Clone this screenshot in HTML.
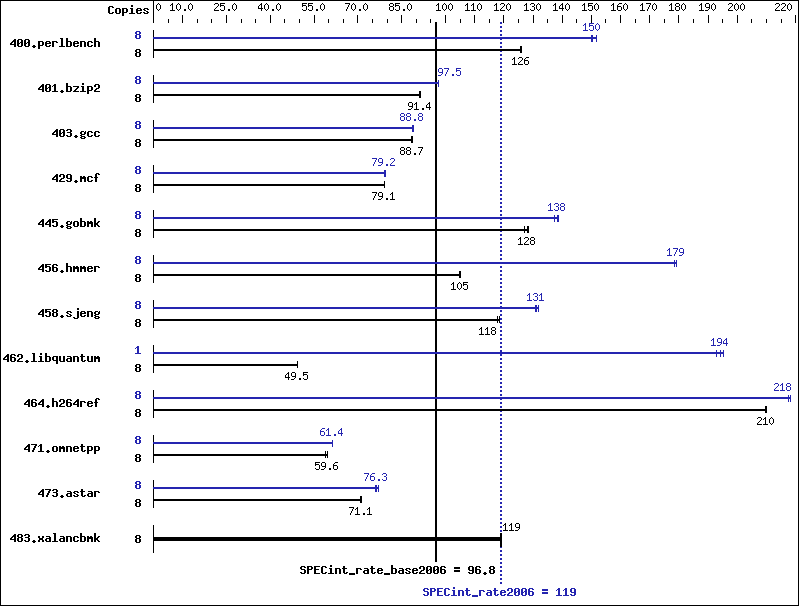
<!DOCTYPE html>
<html><head><meta charset="utf-8"><title>SPECint_rate2006</title>
<style>
html,body{margin:0;padding:0;background:#fff;overflow:hidden;}
svg{display:block;}
.t{font-family:"Liberation Mono",monospace;font-size:12px;fill:#000;fill-opacity:0;}
</style></head><body>
<svg width="799" height="606" viewBox="0 0 799 606" shape-rendering="crispEdges">
<defs>
<path id="b2e" d="M2 7h2v1h-2zM1 8h4v1h-4zM2 9h2v1h-2z"/>
<path id="b30" d="M1 1h4v1h-4zM0 2h2v1h-2zM4 2h2v1h-2zM0 3h2v1h-2zM4 3h2v1h-2zM0 4h2v1h-2zM3 4h3v1h-3zM0 5h3v1h-3zM4 5h2v1h-2zM0 6h2v1h-2zM4 6h2v1h-2zM0 7h2v1h-2zM4 7h2v1h-2zM1 8h4v1h-4z"/>
<path id="b31" d="M2 1h2v1h-2zM1 2h3v1h-3zM0 3h1v1h-1zM2 3h2v1h-2zM2 4h2v1h-2zM2 5h2v1h-2zM2 6h2v1h-2zM2 7h2v1h-2zM0 8h6v1h-6z"/>
<path id="b32" d="M1 1h4v1h-4zM0 2h2v1h-2zM4 2h2v1h-2zM0 3h2v1h-2zM4 3h2v1h-2zM4 4h2v1h-2zM2 5h3v1h-3zM1 6h2v1h-2zM0 7h2v1h-2zM0 8h6v1h-6z"/>
<path id="b33" d="M1 1h4v1h-4zM0 2h2v1h-2zM4 2h2v1h-2zM4 3h2v1h-2zM1 4h4v1h-4zM4 5h2v1h-2zM4 6h2v1h-2zM0 7h2v1h-2zM4 7h2v1h-2zM1 8h4v1h-4z"/>
<path id="b34" d="M4 1h2v1h-2zM3 2h3v1h-3zM2 3h4v1h-4zM1 4h2v1h-2zM4 4h2v1h-2zM0 5h2v1h-2zM4 5h2v1h-2zM0 6h6v1h-6zM4 7h2v1h-2zM4 8h2v1h-2z"/>
<path id="b35" d="M0 1h6v1h-6zM0 2h2v1h-2zM0 3h5v1h-5zM0 4h2v1h-2zM4 4h2v1h-2zM4 5h2v1h-2zM4 6h2v1h-2zM0 7h2v1h-2zM4 7h2v1h-2zM1 8h4v1h-4z"/>
<path id="b36" d="M1 1h4v1h-4zM0 2h2v1h-2zM4 2h2v1h-2zM0 3h2v1h-2zM0 4h5v1h-5zM0 5h2v1h-2zM4 5h2v1h-2zM0 6h2v1h-2zM4 6h2v1h-2zM0 7h2v1h-2zM4 7h2v1h-2zM1 8h4v1h-4z"/>
<path id="b37" d="M0 1h6v1h-6zM4 2h2v1h-2zM3 3h2v1h-2zM3 4h2v1h-2zM2 5h2v1h-2zM2 6h2v1h-2zM1 7h2v1h-2zM1 8h2v1h-2z"/>
<path id="b38" d="M1 1h4v1h-4zM0 2h2v1h-2zM4 2h2v1h-2zM0 3h2v1h-2zM4 3h2v1h-2zM1 4h4v1h-4zM0 5h2v1h-2zM4 5h2v1h-2zM0 6h2v1h-2zM4 6h2v1h-2zM0 7h2v1h-2zM4 7h2v1h-2zM1 8h4v1h-4z"/>
<path id="b39" d="M1 1h4v1h-4zM0 2h2v1h-2zM4 2h2v1h-2zM0 3h2v1h-2zM4 3h2v1h-2zM0 4h2v1h-2zM4 4h2v1h-2zM1 5h5v1h-5zM4 6h2v1h-2zM0 7h2v1h-2zM4 7h2v1h-2zM1 8h4v1h-4z"/>
<path id="b3d" d="M0 2h6v1h-6zM0 3h6v1h-6zM0 5h6v1h-6zM0 6h6v1h-6z"/>
<path id="b43" d="M1 1h4v1h-4zM0 2h2v1h-2zM4 2h2v1h-2zM0 3h2v1h-2zM0 4h2v1h-2zM0 5h2v1h-2zM0 6h2v1h-2zM0 7h2v1h-2zM4 7h2v1h-2zM1 8h4v1h-4z"/>
<path id="b45" d="M0 1h6v1h-6zM0 2h2v1h-2zM0 3h2v1h-2zM0 4h5v1h-5zM0 5h2v1h-2zM0 6h2v1h-2zM0 7h2v1h-2zM0 8h6v1h-6z"/>
<path id="b50" d="M0 1h5v1h-5zM0 2h2v1h-2zM4 2h2v1h-2zM0 3h2v1h-2zM4 3h2v1h-2zM0 4h5v1h-5zM0 5h2v1h-2zM0 6h2v1h-2zM0 7h2v1h-2zM0 8h2v1h-2z"/>
<path id="b53" d="M1 1h4v1h-4zM0 2h2v1h-2zM4 2h2v1h-2zM0 3h2v1h-2zM1 4h4v1h-4zM4 5h2v1h-2zM4 6h2v1h-2zM0 7h2v1h-2zM4 7h2v1h-2zM1 8h4v1h-4z"/>
<path id="b5f" d="M0 8h6v1h-6zM0 9h6v1h-6z"/>
<path id="b61" d="M1 3h4v1h-4zM4 4h2v1h-2zM1 5h5v1h-5zM0 6h2v1h-2zM4 6h2v1h-2zM0 7h2v1h-2zM4 7h2v1h-2zM1 8h5v1h-5z"/>
<path id="b62" d="M0 0h2v1h-2zM0 1h2v1h-2zM0 2h2v1h-2zM0 3h5v1h-5zM0 4h2v1h-2zM4 4h2v1h-2zM0 5h2v1h-2zM4 5h2v1h-2zM0 6h2v1h-2zM4 6h2v1h-2zM0 7h2v1h-2zM4 7h2v1h-2zM0 8h5v1h-5z"/>
<path id="b63" d="M1 3h4v1h-4zM0 4h2v1h-2zM4 4h2v1h-2zM0 5h2v1h-2zM0 6h2v1h-2zM0 7h2v1h-2zM4 7h2v1h-2zM1 8h4v1h-4z"/>
<path id="b65" d="M1 3h4v1h-4zM0 4h2v1h-2zM4 4h2v1h-2zM0 5h6v1h-6zM0 6h2v1h-2zM0 7h2v1h-2zM4 7h2v1h-2zM1 8h4v1h-4z"/>
<path id="b66" d="M2 0h3v1h-3zM1 1h2v1h-2zM4 1h2v1h-2zM1 2h2v1h-2zM1 3h2v1h-2zM0 4h4v1h-4zM1 5h2v1h-2zM1 6h2v1h-2zM1 7h2v1h-2zM1 8h2v1h-2z"/>
<path id="b67" d="M1 3h3v1h-3zM5 3h1v1h-1zM0 4h2v1h-2zM4 4h2v1h-2zM0 5h2v1h-2zM4 5h2v1h-2zM1 6h4v1h-4zM0 7h2v1h-2zM1 8h4v1h-4zM0 9h2v1h-2zM4 9h2v1h-2zM1 10h4v1h-4z"/>
<path id="b68" d="M0 0h2v1h-2zM0 1h2v1h-2zM0 2h2v1h-2zM0 3h5v1h-5zM0 4h2v1h-2zM4 4h2v1h-2zM0 5h2v1h-2zM4 5h2v1h-2zM0 6h2v1h-2zM4 6h2v1h-2zM0 7h2v1h-2zM4 7h2v1h-2zM0 8h2v1h-2zM4 8h2v1h-2z"/>
<path id="b69" d="M2 0h2v1h-2zM2 1h2v1h-2zM1 3h3v1h-3zM2 4h2v1h-2zM2 5h2v1h-2zM2 6h2v1h-2zM2 7h2v1h-2zM0 8h6v1h-6z"/>
<path id="b6a" d="M4 0h2v1h-2zM4 1h2v1h-2zM4 3h2v1h-2zM4 4h2v1h-2zM4 5h2v1h-2zM4 6h2v1h-2zM4 7h2v1h-2zM4 8h2v1h-2zM0 9h2v1h-2zM4 9h2v1h-2zM1 10h4v1h-4z"/>
<path id="b6b" d="M0 0h2v1h-2zM0 1h2v1h-2zM0 2h2v1h-2zM0 3h2v1h-2zM4 3h2v1h-2zM0 4h2v1h-2zM3 4h2v1h-2zM0 5h4v1h-4zM0 6h4v1h-4zM0 7h2v1h-2zM3 7h2v1h-2zM0 8h2v1h-2zM4 8h2v1h-2z"/>
<path id="b6c" d="M1 0h3v1h-3zM2 1h2v1h-2zM2 2h2v1h-2zM2 3h2v1h-2zM2 4h2v1h-2zM2 5h2v1h-2zM2 6h2v1h-2zM2 7h2v1h-2zM0 8h6v1h-6z"/>
<path id="b6d" d="M0 3h2v1h-2zM3 3h2v1h-2zM0 4h6v1h-6zM0 5h6v1h-6zM0 6h2v1h-2zM4 6h2v1h-2zM0 7h2v1h-2zM4 7h2v1h-2zM0 8h2v1h-2zM4 8h2v1h-2z"/>
<path id="b6e" d="M0 3h5v1h-5zM0 4h2v1h-2zM4 4h2v1h-2zM0 5h2v1h-2zM4 5h2v1h-2zM0 6h2v1h-2zM4 6h2v1h-2zM0 7h2v1h-2zM4 7h2v1h-2zM0 8h2v1h-2zM4 8h2v1h-2z"/>
<path id="b6f" d="M1 3h4v1h-4zM0 4h2v1h-2zM4 4h2v1h-2zM0 5h2v1h-2zM4 5h2v1h-2zM0 6h2v1h-2zM4 6h2v1h-2zM0 7h2v1h-2zM4 7h2v1h-2zM1 8h4v1h-4z"/>
<path id="b70" d="M0 3h5v1h-5zM0 4h2v1h-2zM4 4h2v1h-2zM0 5h2v1h-2zM4 5h2v1h-2zM0 6h2v1h-2zM4 6h2v1h-2zM0 7h5v1h-5zM0 8h2v1h-2zM0 9h2v1h-2zM0 10h2v1h-2z"/>
<path id="b71" d="M1 3h5v1h-5zM0 4h2v1h-2zM4 4h2v1h-2zM0 5h2v1h-2zM4 5h2v1h-2zM0 6h2v1h-2zM4 6h2v1h-2zM1 7h5v1h-5zM4 8h2v1h-2zM4 9h2v1h-2zM4 10h2v1h-2z"/>
<path id="b72" d="M0 3h5v1h-5zM0 4h2v1h-2zM4 4h2v1h-2zM0 5h2v1h-2zM0 6h2v1h-2zM0 7h2v1h-2zM0 8h2v1h-2z"/>
<path id="b73" d="M1 3h4v1h-4zM0 4h2v1h-2zM4 4h2v1h-2zM1 5h2v1h-2zM3 6h2v1h-2zM0 7h2v1h-2zM4 7h2v1h-2zM1 8h4v1h-4z"/>
<path id="b74" d="M1 1h2v1h-2zM1 2h2v1h-2zM0 3h5v1h-5zM1 4h2v1h-2zM1 5h2v1h-2zM1 6h2v1h-2zM1 7h2v1h-2zM4 7h2v1h-2zM2 8h3v1h-3z"/>
<path id="b75" d="M0 3h2v1h-2zM4 3h2v1h-2zM0 4h2v1h-2zM4 4h2v1h-2zM0 5h2v1h-2zM4 5h2v1h-2zM0 6h2v1h-2zM4 6h2v1h-2zM0 7h2v1h-2zM4 7h2v1h-2zM1 8h5v1h-5z"/>
<path id="b78" d="M0 3h2v1h-2zM4 3h2v1h-2zM0 4h2v1h-2zM4 4h2v1h-2zM1 5h4v1h-4zM1 6h4v1h-4zM0 7h2v1h-2zM4 7h2v1h-2zM0 8h2v1h-2zM4 8h2v1h-2z"/>
<path id="b7a" d="M0 3h6v1h-6zM4 4h2v1h-2zM3 5h2v1h-2zM2 6h2v1h-2zM1 7h2v1h-2zM0 8h6v1h-6z"/>
<path id="s2e" d="M2 6h2v1h-2zM2 7h2v1h-2z"/>
<path id="s30" d="M2 0h1v1h-1zM1 1h1v1h-1zM3 1h1v1h-1zM0 2h1v1h-1zM4 2h1v1h-1zM0 3h1v1h-1zM4 3h1v1h-1zM0 4h1v1h-1zM4 4h1v1h-1zM0 5h1v1h-1zM4 5h1v1h-1zM1 6h1v1h-1zM3 6h1v1h-1zM2 7h1v1h-1z"/>
<path id="s31" d="M2 0h1v1h-1zM1 1h2v1h-2zM0 2h1v1h-1zM2 2h1v1h-1zM2 3h1v1h-1zM2 4h1v1h-1zM2 5h1v1h-1zM2 6h1v1h-1zM0 7h5v1h-5z"/>
<path id="s32" d="M1 0h3v1h-3zM0 1h1v1h-1zM4 1h1v1h-1zM4 2h1v1h-1zM3 3h1v1h-1zM2 4h1v1h-1zM1 5h1v1h-1zM0 6h1v1h-1zM0 7h5v1h-5z"/>
<path id="s33" d="M1 0h3v1h-3zM0 1h1v1h-1zM4 1h1v1h-1zM4 2h1v1h-1zM2 3h2v1h-2zM4 4h1v1h-1zM4 5h1v1h-1zM0 6h1v1h-1zM4 6h1v1h-1zM1 7h3v1h-3z"/>
<path id="s34" d="M3 0h1v1h-1zM2 1h2v1h-2zM1 2h1v1h-1zM3 2h1v1h-1zM0 3h1v1h-1zM3 3h1v1h-1zM0 4h1v1h-1zM3 4h1v1h-1zM0 5h5v1h-5zM3 6h1v1h-1zM3 7h1v1h-1z"/>
<path id="s35" d="M0 0h5v1h-5zM0 1h1v1h-1zM0 2h4v1h-4zM0 3h1v1h-1zM4 3h1v1h-1zM4 4h1v1h-1zM4 5h1v1h-1zM0 6h1v1h-1zM4 6h1v1h-1zM1 7h3v1h-3z"/>
<path id="s36" d="M2 0h3v1h-3zM1 1h1v1h-1zM0 2h1v1h-1zM0 3h4v1h-4zM0 4h1v1h-1zM4 4h1v1h-1zM0 5h1v1h-1zM4 5h1v1h-1zM0 6h1v1h-1zM4 6h1v1h-1zM1 7h3v1h-3z"/>
<path id="s37" d="M0 0h5v1h-5zM4 1h1v1h-1zM3 2h1v1h-1zM3 3h1v1h-1zM2 4h1v1h-1zM2 5h1v1h-1zM1 6h1v1h-1zM1 7h1v1h-1z"/>
<path id="s38" d="M1 0h3v1h-3zM0 1h1v1h-1zM4 1h1v1h-1zM0 2h1v1h-1zM4 2h1v1h-1zM1 3h3v1h-3zM0 4h1v1h-1zM4 4h1v1h-1zM0 5h1v1h-1zM4 5h1v1h-1zM0 6h1v1h-1zM4 6h1v1h-1zM1 7h3v1h-3z"/>
<path id="s39" d="M1 0h3v1h-3zM0 1h1v1h-1zM4 1h1v1h-1zM0 2h1v1h-1zM4 2h1v1h-1zM0 3h1v1h-1zM4 3h1v1h-1zM1 4h4v1h-4zM4 5h1v1h-1zM3 6h1v1h-1zM0 7h3v1h-3z"/>
</defs>
<rect x="0" y="0" width="799" height="606" fill="#fff"/>
<g fill="#000">
<rect x="0" y="0" width="799" height="1"/>
<rect x="0" y="605" width="799" height="1"/>
<rect x="0" y="1" width="1" height="604"/>
<rect x="798" y="1" width="1" height="604"/>
<rect x="153" y="1" width="1" height="22"/>
<rect x="168" y="19" width="1" height="4"/>
<rect x="182" y="15" width="1" height="8"/>
<rect x="197" y="19" width="1" height="4"/>
<rect x="211" y="19" width="1" height="4"/>
<rect x="226" y="15" width="1" height="8"/>
<rect x="241" y="19" width="1" height="4"/>
<rect x="255" y="19" width="1" height="4"/>
<rect x="270" y="15" width="1" height="8"/>
<rect x="284" y="19" width="1" height="4"/>
<rect x="299" y="19" width="1" height="4"/>
<rect x="314" y="15" width="1" height="8"/>
<rect x="328" y="19" width="1" height="4"/>
<rect x="343" y="19" width="1" height="4"/>
<rect x="357" y="15" width="1" height="8"/>
<rect x="372" y="19" width="1" height="4"/>
<rect x="387" y="19" width="1" height="4"/>
<rect x="401" y="15" width="1" height="8"/>
<rect x="416" y="19" width="1" height="4"/>
<rect x="430" y="19" width="1" height="4"/>
<rect x="445" y="15" width="1" height="8"/>
<rect x="460" y="19" width="1" height="4"/>
<rect x="474" y="15" width="1" height="8"/>
<rect x="489" y="19" width="1" height="4"/>
<rect x="503" y="15" width="1" height="8"/>
<rect x="518" y="19" width="1" height="4"/>
<rect x="533" y="15" width="1" height="8"/>
<rect x="547" y="19" width="1" height="4"/>
<rect x="562" y="15" width="1" height="8"/>
<rect x="576" y="19" width="1" height="4"/>
<rect x="591" y="15" width="1" height="8"/>
<rect x="605" y="19" width="1" height="4"/>
<rect x="620" y="15" width="1" height="8"/>
<rect x="635" y="19" width="1" height="4"/>
<rect x="649" y="15" width="1" height="8"/>
<rect x="664" y="19" width="1" height="4"/>
<rect x="678" y="15" width="1" height="8"/>
<rect x="693" y="19" width="1" height="4"/>
<rect x="708" y="15" width="1" height="8"/>
<rect x="722" y="19" width="1" height="4"/>
<rect x="737" y="15" width="1" height="8"/>
<rect x="751" y="19" width="1" height="4"/>
<rect x="766" y="19" width="1" height="4"/>
<rect x="781" y="19" width="1" height="4"/>
<rect x="795" y="15" width="1" height="8"/>
<rect x="435" y="22" width="2" height="540"/>
</g>
<g fill="#2525b0">
<rect x="500" y="22" width="2" height="2"/>
<rect x="500" y="26" width="2" height="2"/>
<rect x="500" y="30" width="2" height="2"/>
<rect x="500" y="34" width="2" height="2"/>
<rect x="500" y="38" width="2" height="2"/>
<rect x="500" y="42" width="2" height="2"/>
<rect x="500" y="46" width="2" height="2"/>
<rect x="500" y="50" width="2" height="2"/>
<rect x="500" y="54" width="2" height="2"/>
<rect x="500" y="58" width="2" height="2"/>
<rect x="500" y="62" width="2" height="2"/>
<rect x="500" y="66" width="2" height="2"/>
<rect x="500" y="70" width="2" height="2"/>
<rect x="500" y="74" width="2" height="2"/>
<rect x="500" y="78" width="2" height="2"/>
<rect x="500" y="82" width="2" height="2"/>
<rect x="500" y="86" width="2" height="2"/>
<rect x="500" y="90" width="2" height="2"/>
<rect x="500" y="94" width="2" height="2"/>
<rect x="500" y="98" width="2" height="2"/>
<rect x="500" y="102" width="2" height="2"/>
<rect x="500" y="106" width="2" height="2"/>
<rect x="500" y="110" width="2" height="2"/>
<rect x="500" y="114" width="2" height="2"/>
<rect x="500" y="118" width="2" height="2"/>
<rect x="500" y="122" width="2" height="2"/>
<rect x="500" y="126" width="2" height="2"/>
<rect x="500" y="130" width="2" height="2"/>
<rect x="500" y="134" width="2" height="2"/>
<rect x="500" y="138" width="2" height="2"/>
<rect x="500" y="142" width="2" height="2"/>
<rect x="500" y="146" width="2" height="2"/>
<rect x="500" y="150" width="2" height="2"/>
<rect x="500" y="154" width="2" height="2"/>
<rect x="500" y="158" width="2" height="2"/>
<rect x="500" y="162" width="2" height="2"/>
<rect x="500" y="166" width="2" height="2"/>
<rect x="500" y="170" width="2" height="2"/>
<rect x="500" y="174" width="2" height="2"/>
<rect x="500" y="178" width="2" height="2"/>
<rect x="500" y="182" width="2" height="2"/>
<rect x="500" y="186" width="2" height="2"/>
<rect x="500" y="190" width="2" height="2"/>
<rect x="500" y="194" width="2" height="2"/>
<rect x="500" y="198" width="2" height="2"/>
<rect x="500" y="202" width="2" height="2"/>
<rect x="500" y="206" width="2" height="2"/>
<rect x="500" y="210" width="2" height="2"/>
<rect x="500" y="214" width="2" height="2"/>
<rect x="500" y="218" width="2" height="2"/>
<rect x="500" y="222" width="2" height="2"/>
<rect x="500" y="226" width="2" height="2"/>
<rect x="500" y="230" width="2" height="2"/>
<rect x="500" y="234" width="2" height="2"/>
<rect x="500" y="238" width="2" height="2"/>
<rect x="500" y="242" width="2" height="2"/>
<rect x="500" y="246" width="2" height="2"/>
<rect x="500" y="250" width="2" height="2"/>
<rect x="500" y="254" width="2" height="2"/>
<rect x="500" y="258" width="2" height="2"/>
<rect x="500" y="262" width="2" height="2"/>
<rect x="500" y="266" width="2" height="2"/>
<rect x="500" y="270" width="2" height="2"/>
<rect x="500" y="274" width="2" height="2"/>
<rect x="500" y="278" width="2" height="2"/>
<rect x="500" y="282" width="2" height="2"/>
<rect x="500" y="286" width="2" height="2"/>
<rect x="500" y="290" width="2" height="2"/>
<rect x="500" y="294" width="2" height="2"/>
<rect x="500" y="298" width="2" height="2"/>
<rect x="500" y="302" width="2" height="2"/>
<rect x="500" y="306" width="2" height="2"/>
<rect x="500" y="310" width="2" height="2"/>
<rect x="500" y="314" width="2" height="2"/>
<rect x="500" y="318" width="2" height="2"/>
<rect x="500" y="322" width="2" height="2"/>
<rect x="500" y="326" width="2" height="2"/>
<rect x="500" y="330" width="2" height="2"/>
<rect x="500" y="334" width="2" height="2"/>
<rect x="500" y="338" width="2" height="2"/>
<rect x="500" y="342" width="2" height="2"/>
<rect x="500" y="346" width="2" height="2"/>
<rect x="500" y="350" width="2" height="2"/>
<rect x="500" y="354" width="2" height="2"/>
<rect x="500" y="358" width="2" height="2"/>
<rect x="500" y="362" width="2" height="2"/>
<rect x="500" y="366" width="2" height="2"/>
<rect x="500" y="370" width="2" height="2"/>
<rect x="500" y="374" width="2" height="2"/>
<rect x="500" y="378" width="2" height="2"/>
<rect x="500" y="382" width="2" height="2"/>
<rect x="500" y="386" width="2" height="2"/>
<rect x="500" y="390" width="2" height="2"/>
<rect x="500" y="394" width="2" height="2"/>
<rect x="500" y="398" width="2" height="2"/>
<rect x="500" y="402" width="2" height="2"/>
<rect x="500" y="406" width="2" height="2"/>
<rect x="500" y="410" width="2" height="2"/>
<rect x="500" y="414" width="2" height="2"/>
<rect x="500" y="418" width="2" height="2"/>
<rect x="500" y="422" width="2" height="2"/>
<rect x="500" y="426" width="2" height="2"/>
<rect x="500" y="430" width="2" height="2"/>
<rect x="500" y="434" width="2" height="2"/>
<rect x="500" y="438" width="2" height="2"/>
<rect x="500" y="442" width="2" height="2"/>
<rect x="500" y="446" width="2" height="2"/>
<rect x="500" y="450" width="2" height="2"/>
<rect x="500" y="454" width="2" height="2"/>
<rect x="500" y="458" width="2" height="2"/>
<rect x="500" y="462" width="2" height="2"/>
<rect x="500" y="466" width="2" height="2"/>
<rect x="500" y="470" width="2" height="2"/>
<rect x="500" y="474" width="2" height="2"/>
<rect x="500" y="478" width="2" height="2"/>
<rect x="500" y="482" width="2" height="2"/>
<rect x="500" y="486" width="2" height="2"/>
<rect x="500" y="490" width="2" height="2"/>
<rect x="500" y="494" width="2" height="2"/>
<rect x="500" y="498" width="2" height="2"/>
<rect x="500" y="502" width="2" height="2"/>
<rect x="500" y="506" width="2" height="2"/>
<rect x="500" y="510" width="2" height="2"/>
<rect x="500" y="514" width="2" height="2"/>
<rect x="500" y="518" width="2" height="2"/>
<rect x="500" y="522" width="2" height="2"/>
<rect x="500" y="526" width="2" height="2"/>
<rect x="500" y="530" width="2" height="2"/>
<rect x="500" y="534" width="2" height="2"/>
<rect x="500" y="538" width="2" height="2"/>
<rect x="500" y="542" width="2" height="2"/>
<rect x="500" y="546" width="2" height="2"/>
<rect x="500" y="550" width="2" height="2"/>
<rect x="500" y="554" width="2" height="2"/>
<rect x="500" y="558" width="2" height="2"/>
<rect x="500" y="562" width="2" height="2"/>
<rect x="500" y="566" width="2" height="2"/>
<rect x="500" y="570" width="2" height="2"/>
<rect x="500" y="574" width="2" height="2"/>
<rect x="500" y="578" width="2" height="2"/>
<rect x="500" y="582" width="2" height="2"/>
</g>
<g fill="#000">
<rect x="153" y="30" width="1" height="28"/>
</g>
<g fill="#2525b0">
<rect x="153" y="37" width="444" height="2"/>
<rect x="591" y="35" width="1" height="7"/>
<rect x="592" y="35" width="1" height="7"/>
<rect x="596" y="35" width="1" height="7"/>
</g>
<g fill="#000">
<rect x="153" y="49" width="369" height="2"/>
<rect x="520" y="46" width="1" height="7"/>
<rect x="521" y="46" width="1" height="7"/>
<rect x="153" y="75" width="1" height="28"/>
</g>
<g fill="#2525b0">
<rect x="153" y="82" width="286" height="2"/>
<rect x="438" y="80" width="1" height="7"/>
</g>
<g fill="#000">
<rect x="153" y="94" width="268" height="2"/>
<rect x="419" y="91" width="1" height="7"/>
<rect x="420" y="91" width="1" height="7"/>
<rect x="153" y="120" width="1" height="28"/>
</g>
<g fill="#2525b0">
<rect x="153" y="127" width="261" height="2"/>
<rect x="412" y="125" width="1" height="7"/>
<rect x="413" y="125" width="1" height="7"/>
</g>
<g fill="#000">
<rect x="153" y="139" width="260" height="2"/>
<rect x="411" y="136" width="1" height="7"/>
<rect x="412" y="136" width="1" height="7"/>
<rect x="153" y="165" width="1" height="28"/>
</g>
<g fill="#2525b0">
<rect x="153" y="172" width="233" height="2"/>
<rect x="384" y="170" width="1" height="7"/>
<rect x="385" y="170" width="1" height="7"/>
</g>
<g fill="#000">
<rect x="153" y="184" width="232" height="2"/>
<rect x="384" y="181" width="1" height="7"/>
<rect x="153" y="210" width="1" height="28"/>
</g>
<g fill="#2525b0">
<rect x="153" y="217" width="406" height="2"/>
<rect x="554" y="215" width="1" height="7"/>
<rect x="557" y="215" width="1" height="7"/>
<rect x="558" y="215" width="1" height="7"/>
</g>
<g fill="#000">
<rect x="153" y="229" width="376" height="2"/>
<rect x="524" y="226" width="1" height="7"/>
<rect x="527" y="226" width="1" height="7"/>
<rect x="528" y="226" width="1" height="7"/>
<rect x="153" y="255" width="1" height="28"/>
</g>
<g fill="#2525b0">
<rect x="153" y="262" width="524" height="2"/>
<rect x="674" y="260" width="1" height="7"/>
<rect x="676" y="260" width="1" height="7"/>
</g>
<g fill="#000">
<rect x="153" y="274" width="308" height="2"/>
<rect x="459" y="271" width="1" height="7"/>
<rect x="460" y="271" width="1" height="7"/>
<rect x="153" y="300" width="1" height="28"/>
</g>
<g fill="#2525b0">
<rect x="153" y="307" width="386" height="2"/>
<rect x="535" y="305" width="1" height="7"/>
<rect x="536" y="305" width="1" height="7"/>
<rect x="538" y="305" width="1" height="7"/>
</g>
<g fill="#000">
<rect x="153" y="319" width="347" height="2"/>
<rect x="497" y="316" width="1" height="7"/>
<rect x="499" y="316" width="1" height="7"/>
<rect x="153" y="345" width="1" height="28"/>
</g>
<g fill="#2525b0">
<rect x="153" y="352" width="571" height="2"/>
<rect x="716" y="350" width="1" height="7"/>
<rect x="720" y="350" width="1" height="7"/>
<rect x="723" y="350" width="1" height="7"/>
</g>
<g fill="#000">
<rect x="153" y="364" width="145" height="2"/>
<rect x="297" y="361" width="1" height="7"/>
<rect x="153" y="390" width="1" height="28"/>
</g>
<g fill="#2525b0">
<rect x="153" y="397" width="638" height="2"/>
<rect x="788" y="395" width="1" height="7"/>
<rect x="790" y="395" width="1" height="7"/>
</g>
<g fill="#000">
<rect x="153" y="409" width="614" height="2"/>
<rect x="765" y="406" width="1" height="7"/>
<rect x="766" y="406" width="1" height="7"/>
<rect x="153" y="435" width="1" height="28"/>
</g>
<g fill="#2525b0">
<rect x="153" y="442" width="180" height="2"/>
<rect x="332" y="440" width="1" height="7"/>
</g>
<g fill="#000">
<rect x="153" y="454" width="175" height="2"/>
<rect x="325" y="451" width="1" height="7"/>
<rect x="327" y="451" width="1" height="7"/>
<rect x="153" y="480" width="1" height="28"/>
</g>
<g fill="#2525b0">
<rect x="153" y="487" width="226" height="2"/>
<rect x="375" y="485" width="1" height="7"/>
<rect x="376" y="485" width="1" height="7"/>
<rect x="378" y="485" width="1" height="7"/>
</g>
<g fill="#000">
<rect x="153" y="499" width="209" height="2"/>
<rect x="360" y="496" width="1" height="7"/>
<rect x="361" y="496" width="1" height="7"/>
<rect x="153" y="525" width="1" height="28"/>
<rect x="153" y="537" width="349" height="4"/>
<rect x="500" y="533" width="2" height="14"/>
</g>
<g fill="#000" transform="translate(108 5)"><use href="#b43" x="0"/><use href="#b6f" x="7"/><use href="#b70" x="14"/><use href="#b69" x="21"/><use href="#b65" x="28"/><use href="#b73" x="35"/></g>
<g fill="#000" transform="translate(10 38)"><use href="#b34" x="0"/><use href="#b30" x="7"/><use href="#b30" x="14"/><use href="#b2e" x="21"/><use href="#b70" x="28"/><use href="#b65" x="35"/><use href="#b72" x="42"/><use href="#b6c" x="49"/><use href="#b62" x="56"/><use href="#b65" x="63"/><use href="#b6e" x="70"/><use href="#b63" x="77"/><use href="#b68" x="84"/></g>
<g fill="#2525b0" transform="translate(135 30)"><use href="#b38" x="0"/></g>
<g fill="#000" transform="translate(135 48)"><use href="#b38" x="0"/></g>
<g fill="#000" transform="translate(38 83)"><use href="#b34" x="0"/><use href="#b30" x="7"/><use href="#b31" x="14"/><use href="#b2e" x="21"/><use href="#b62" x="28"/><use href="#b7a" x="35"/><use href="#b69" x="42"/><use href="#b70" x="49"/><use href="#b32" x="56"/></g>
<g fill="#2525b0" transform="translate(135 75)"><use href="#b38" x="0"/></g>
<g fill="#000" transform="translate(135 93)"><use href="#b38" x="0"/></g>
<g fill="#000" transform="translate(52 128)"><use href="#b34" x="0"/><use href="#b30" x="7"/><use href="#b33" x="14"/><use href="#b2e" x="21"/><use href="#b67" x="28"/><use href="#b63" x="35"/><use href="#b63" x="42"/></g>
<g fill="#2525b0" transform="translate(135 120)"><use href="#b38" x="0"/></g>
<g fill="#000" transform="translate(135 138)"><use href="#b38" x="0"/></g>
<g fill="#000" transform="translate(52 173)"><use href="#b34" x="0"/><use href="#b32" x="7"/><use href="#b39" x="14"/><use href="#b2e" x="21"/><use href="#b6d" x="28"/><use href="#b63" x="35"/><use href="#b66" x="42"/></g>
<g fill="#2525b0" transform="translate(135 165)"><use href="#b38" x="0"/></g>
<g fill="#000" transform="translate(135 183)"><use href="#b38" x="0"/></g>
<g fill="#000" transform="translate(38 218)"><use href="#b34" x="0"/><use href="#b34" x="7"/><use href="#b35" x="14"/><use href="#b2e" x="21"/><use href="#b67" x="28"/><use href="#b6f" x="35"/><use href="#b62" x="42"/><use href="#b6d" x="49"/><use href="#b6b" x="56"/></g>
<g fill="#2525b0" transform="translate(135 210)"><use href="#b38" x="0"/></g>
<g fill="#000" transform="translate(135 228)"><use href="#b38" x="0"/></g>
<g fill="#000" transform="translate(38 263)"><use href="#b34" x="0"/><use href="#b35" x="7"/><use href="#b36" x="14"/><use href="#b2e" x="21"/><use href="#b68" x="28"/><use href="#b6d" x="35"/><use href="#b6d" x="42"/><use href="#b65" x="49"/><use href="#b72" x="56"/></g>
<g fill="#2525b0" transform="translate(135 255)"><use href="#b38" x="0"/></g>
<g fill="#000" transform="translate(135 273)"><use href="#b38" x="0"/></g>
<g fill="#000" transform="translate(38 308)"><use href="#b34" x="0"/><use href="#b35" x="7"/><use href="#b38" x="14"/><use href="#b2e" x="21"/><use href="#b73" x="28"/><use href="#b6a" x="35"/><use href="#b65" x="42"/><use href="#b6e" x="49"/><use href="#b67" x="56"/></g>
<g fill="#2525b0" transform="translate(135 300)"><use href="#b38" x="0"/></g>
<g fill="#000" transform="translate(135 318)"><use href="#b38" x="0"/></g>
<g fill="#000" transform="translate(3 353)"><use href="#b34" x="0"/><use href="#b36" x="7"/><use href="#b32" x="14"/><use href="#b2e" x="21"/><use href="#b6c" x="28"/><use href="#b69" x="35"/><use href="#b62" x="42"/><use href="#b71" x="49"/><use href="#b75" x="56"/><use href="#b61" x="63"/><use href="#b6e" x="70"/><use href="#b74" x="77"/><use href="#b75" x="84"/><use href="#b6d" x="91"/></g>
<g fill="#2525b0" transform="translate(135 345)"><use href="#b31" x="0"/></g>
<g fill="#000" transform="translate(135 363)"><use href="#b38" x="0"/></g>
<g fill="#000" transform="translate(24 398)"><use href="#b34" x="0"/><use href="#b36" x="7"/><use href="#b34" x="14"/><use href="#b2e" x="21"/><use href="#b68" x="28"/><use href="#b32" x="35"/><use href="#b36" x="42"/><use href="#b34" x="49"/><use href="#b72" x="56"/><use href="#b65" x="63"/><use href="#b66" x="70"/></g>
<g fill="#2525b0" transform="translate(135 390)"><use href="#b38" x="0"/></g>
<g fill="#000" transform="translate(135 408)"><use href="#b38" x="0"/></g>
<g fill="#000" transform="translate(24 443)"><use href="#b34" x="0"/><use href="#b37" x="7"/><use href="#b31" x="14"/><use href="#b2e" x="21"/><use href="#b6f" x="28"/><use href="#b6d" x="35"/><use href="#b6e" x="42"/><use href="#b65" x="49"/><use href="#b74" x="56"/><use href="#b70" x="63"/><use href="#b70" x="70"/></g>
<g fill="#2525b0" transform="translate(135 435)"><use href="#b38" x="0"/></g>
<g fill="#000" transform="translate(135 453)"><use href="#b38" x="0"/></g>
<g fill="#000" transform="translate(38 488)"><use href="#b34" x="0"/><use href="#b37" x="7"/><use href="#b33" x="14"/><use href="#b2e" x="21"/><use href="#b61" x="28"/><use href="#b73" x="35"/><use href="#b74" x="42"/><use href="#b61" x="49"/><use href="#b72" x="56"/></g>
<g fill="#2525b0" transform="translate(135 480)"><use href="#b38" x="0"/></g>
<g fill="#000" transform="translate(135 498)"><use href="#b38" x="0"/></g>
<g fill="#000" transform="translate(10 533)"><use href="#b34" x="0"/><use href="#b38" x="7"/><use href="#b33" x="14"/><use href="#b2e" x="21"/><use href="#b78" x="28"/><use href="#b61" x="35"/><use href="#b6c" x="42"/><use href="#b61" x="49"/><use href="#b6e" x="56"/><use href="#b63" x="63"/><use href="#b62" x="70"/><use href="#b6d" x="77"/><use href="#b6b" x="84"/></g>
<g fill="#000" transform="translate(135 534)"><use href="#b38" x="0"/></g>
<g fill="#000" transform="translate(300 565)"><use href="#b53" x="0"/><use href="#b50" x="7"/><use href="#b45" x="14"/><use href="#b43" x="21"/><use href="#b69" x="28"/><use href="#b6e" x="35"/><use href="#b74" x="42"/><use href="#b5f" x="49"/><use href="#b72" x="56"/><use href="#b61" x="63"/><use href="#b74" x="70"/><use href="#b65" x="77"/><use href="#b5f" x="84"/><use href="#b62" x="91"/><use href="#b61" x="98"/><use href="#b73" x="105"/><use href="#b65" x="112"/><use href="#b32" x="119"/><use href="#b30" x="126"/><use href="#b30" x="133"/><use href="#b36" x="140"/><use href="#b3d" x="154"/><use href="#b39" x="168"/><use href="#b36" x="175"/><use href="#b2e" x="182"/><use href="#b38" x="189"/></g>
<g fill="#2525b0" transform="translate(423 587)"><use href="#b53" x="0"/><use href="#b50" x="7"/><use href="#b45" x="14"/><use href="#b43" x="21"/><use href="#b69" x="28"/><use href="#b6e" x="35"/><use href="#b74" x="42"/><use href="#b5f" x="49"/><use href="#b72" x="56"/><use href="#b61" x="63"/><use href="#b74" x="70"/><use href="#b65" x="77"/><use href="#b32" x="84"/><use href="#b30" x="91"/><use href="#b30" x="98"/><use href="#b36" x="105"/><use href="#b3d" x="119"/><use href="#b31" x="133"/><use href="#b31" x="140"/><use href="#b39" x="147"/></g>
<g fill="#000" transform="translate(156 3)"><use href="#s30" x="0"/></g>
<g fill="#000" transform="translate(170 3)"><use href="#s31" x="0"/><use href="#s30" x="6"/><use href="#s2e" x="12"/><use href="#s30" x="18"/></g>
<g fill="#000" transform="translate(214 3)"><use href="#s32" x="0"/><use href="#s35" x="6"/><use href="#s2e" x="12"/><use href="#s30" x="18"/></g>
<g fill="#000" transform="translate(258 3)"><use href="#s34" x="0"/><use href="#s30" x="6"/><use href="#s2e" x="12"/><use href="#s30" x="18"/></g>
<g fill="#000" transform="translate(302 3)"><use href="#s35" x="0"/><use href="#s35" x="6"/><use href="#s2e" x="12"/><use href="#s30" x="18"/></g>
<g fill="#000" transform="translate(345 3)"><use href="#s37" x="0"/><use href="#s30" x="6"/><use href="#s2e" x="12"/><use href="#s30" x="18"/></g>
<g fill="#000" transform="translate(389 3)"><use href="#s38" x="0"/><use href="#s35" x="6"/><use href="#s2e" x="12"/><use href="#s30" x="18"/></g>
<g fill="#000" transform="translate(436 3)"><use href="#s31" x="0"/><use href="#s30" x="6"/><use href="#s30" x="12"/></g>
<g fill="#000" transform="translate(465 3)"><use href="#s31" x="0"/><use href="#s31" x="6"/><use href="#s30" x="12"/></g>
<g fill="#000" transform="translate(494 3)"><use href="#s31" x="0"/><use href="#s32" x="6"/><use href="#s30" x="12"/></g>
<g fill="#000" transform="translate(524 3)"><use href="#s31" x="0"/><use href="#s33" x="6"/><use href="#s30" x="12"/></g>
<g fill="#000" transform="translate(553 3)"><use href="#s31" x="0"/><use href="#s34" x="6"/><use href="#s30" x="12"/></g>
<g fill="#000" transform="translate(582 3)"><use href="#s31" x="0"/><use href="#s35" x="6"/><use href="#s30" x="12"/></g>
<g fill="#000" transform="translate(611 3)"><use href="#s31" x="0"/><use href="#s36" x="6"/><use href="#s30" x="12"/></g>
<g fill="#000" transform="translate(640 3)"><use href="#s31" x="0"/><use href="#s37" x="6"/><use href="#s30" x="12"/></g>
<g fill="#000" transform="translate(669 3)"><use href="#s31" x="0"/><use href="#s38" x="6"/><use href="#s30" x="12"/></g>
<g fill="#000" transform="translate(699 3)"><use href="#s31" x="0"/><use href="#s39" x="6"/><use href="#s30" x="12"/></g>
<g fill="#000" transform="translate(728 3)"><use href="#s32" x="0"/><use href="#s30" x="6"/><use href="#s30" x="12"/></g>
<g fill="#000" transform="translate(775 3)"><use href="#s32" x="0"/><use href="#s32" x="6"/><use href="#s30" x="12"/></g>
<g fill="#2525b0" transform="translate(583 23)"><use href="#s31" x="0"/><use href="#s35" x="6"/><use href="#s30" x="12"/></g>
<g fill="#000" transform="translate(512 57)"><use href="#s31" x="0"/><use href="#s32" x="6"/><use href="#s36" x="12"/></g>
<g fill="#2525b0" transform="translate(438 68)"><use href="#s39" x="0"/><use href="#s37" x="6"/><use href="#s2e" x="12"/><use href="#s35" x="18"/></g>
<g fill="#000" transform="translate(408 102)"><use href="#s39" x="0"/><use href="#s31" x="6"/><use href="#s2e" x="12"/><use href="#s34" x="18"/></g>
<g fill="#2525b0" transform="translate(400 113)"><use href="#s38" x="0"/><use href="#s38" x="6"/><use href="#s2e" x="12"/><use href="#s38" x="18"/></g>
<g fill="#000" transform="translate(400 147)"><use href="#s38" x="0"/><use href="#s38" x="6"/><use href="#s2e" x="12"/><use href="#s37" x="18"/></g>
<g fill="#2525b0" transform="translate(372 158)"><use href="#s37" x="0"/><use href="#s39" x="6"/><use href="#s2e" x="12"/><use href="#s32" x="18"/></g>
<g fill="#000" transform="translate(372 192)"><use href="#s37" x="0"/><use href="#s39" x="6"/><use href="#s2e" x="12"/><use href="#s31" x="18"/></g>
<g fill="#2525b0" transform="translate(548 203)"><use href="#s31" x="0"/><use href="#s33" x="6"/><use href="#s38" x="12"/></g>
<g fill="#000" transform="translate(518 237)"><use href="#s31" x="0"/><use href="#s32" x="6"/><use href="#s38" x="12"/></g>
<g fill="#2525b0" transform="translate(667 248)"><use href="#s31" x="0"/><use href="#s37" x="6"/><use href="#s39" x="12"/></g>
<g fill="#000" transform="translate(451 282)"><use href="#s31" x="0"/><use href="#s30" x="6"/><use href="#s35" x="12"/></g>
<g fill="#2525b0" transform="translate(527 293)"><use href="#s31" x="0"/><use href="#s33" x="6"/><use href="#s31" x="12"/></g>
<g fill="#000" transform="translate(479 327)"><use href="#s31" x="0"/><use href="#s31" x="6"/><use href="#s38" x="12"/></g>
<g fill="#2525b0" transform="translate(711 338)"><use href="#s31" x="0"/><use href="#s39" x="6"/><use href="#s34" x="12"/></g>
<g fill="#000" transform="translate(285 372)"><use href="#s34" x="0"/><use href="#s39" x="6"/><use href="#s2e" x="12"/><use href="#s35" x="18"/></g>
<g fill="#2525b0" transform="translate(774 383)"><use href="#s32" x="0"/><use href="#s31" x="6"/><use href="#s38" x="12"/></g>
<g fill="#000" transform="translate(757 417)"><use href="#s32" x="0"/><use href="#s31" x="6"/><use href="#s30" x="12"/></g>
<g fill="#2525b0" transform="translate(320 428)"><use href="#s36" x="0"/><use href="#s31" x="6"/><use href="#s2e" x="12"/><use href="#s34" x="18"/></g>
<g fill="#000" transform="translate(315 462)"><use href="#s35" x="0"/><use href="#s39" x="6"/><use href="#s2e" x="12"/><use href="#s36" x="18"/></g>
<g fill="#2525b0" transform="translate(364 473)"><use href="#s37" x="0"/><use href="#s36" x="6"/><use href="#s2e" x="12"/><use href="#s33" x="18"/></g>
<g fill="#000" transform="translate(349 507)"><use href="#s37" x="0"/><use href="#s31" x="6"/><use href="#s2e" x="12"/><use href="#s31" x="18"/></g>
<g fill="#000" transform="translate(503 523)"><use href="#s31" x="0"/><use href="#s31" x="6"/><use href="#s39" x="12"/></g>
<g class="t" aria-hidden="false">
<text x="108" y="14" font-weight="bold" textLength="42" lengthAdjust="spacingAndGlyphs">Copies</text>
<text x="10" y="47" font-weight="bold" textLength="91" lengthAdjust="spacingAndGlyphs">400.perlbench</text>
<text x="135" y="39" font-weight="bold" textLength="7" lengthAdjust="spacingAndGlyphs">8</text>
<text x="135" y="57" font-weight="bold" textLength="7" lengthAdjust="spacingAndGlyphs">8</text>
<text x="38" y="92" font-weight="bold" textLength="63" lengthAdjust="spacingAndGlyphs">401.bzip2</text>
<text x="135" y="84" font-weight="bold" textLength="7" lengthAdjust="spacingAndGlyphs">8</text>
<text x="135" y="102" font-weight="bold" textLength="7" lengthAdjust="spacingAndGlyphs">8</text>
<text x="52" y="137" font-weight="bold" textLength="49" lengthAdjust="spacingAndGlyphs">403.gcc</text>
<text x="135" y="129" font-weight="bold" textLength="7" lengthAdjust="spacingAndGlyphs">8</text>
<text x="135" y="147" font-weight="bold" textLength="7" lengthAdjust="spacingAndGlyphs">8</text>
<text x="52" y="182" font-weight="bold" textLength="49" lengthAdjust="spacingAndGlyphs">429.mcf</text>
<text x="135" y="174" font-weight="bold" textLength="7" lengthAdjust="spacingAndGlyphs">8</text>
<text x="135" y="192" font-weight="bold" textLength="7" lengthAdjust="spacingAndGlyphs">8</text>
<text x="38" y="227" font-weight="bold" textLength="63" lengthAdjust="spacingAndGlyphs">445.gobmk</text>
<text x="135" y="219" font-weight="bold" textLength="7" lengthAdjust="spacingAndGlyphs">8</text>
<text x="135" y="237" font-weight="bold" textLength="7" lengthAdjust="spacingAndGlyphs">8</text>
<text x="38" y="272" font-weight="bold" textLength="63" lengthAdjust="spacingAndGlyphs">456.hmmer</text>
<text x="135" y="264" font-weight="bold" textLength="7" lengthAdjust="spacingAndGlyphs">8</text>
<text x="135" y="282" font-weight="bold" textLength="7" lengthAdjust="spacingAndGlyphs">8</text>
<text x="38" y="317" font-weight="bold" textLength="63" lengthAdjust="spacingAndGlyphs">458.sjeng</text>
<text x="135" y="309" font-weight="bold" textLength="7" lengthAdjust="spacingAndGlyphs">8</text>
<text x="135" y="327" font-weight="bold" textLength="7" lengthAdjust="spacingAndGlyphs">8</text>
<text x="3" y="362" font-weight="bold" textLength="98" lengthAdjust="spacingAndGlyphs">462.libquantum</text>
<text x="135" y="354" font-weight="bold" textLength="7" lengthAdjust="spacingAndGlyphs">1</text>
<text x="135" y="372" font-weight="bold" textLength="7" lengthAdjust="spacingAndGlyphs">8</text>
<text x="24" y="407" font-weight="bold" textLength="77" lengthAdjust="spacingAndGlyphs">464.h264ref</text>
<text x="135" y="399" font-weight="bold" textLength="7" lengthAdjust="spacingAndGlyphs">8</text>
<text x="135" y="417" font-weight="bold" textLength="7" lengthAdjust="spacingAndGlyphs">8</text>
<text x="24" y="452" font-weight="bold" textLength="77" lengthAdjust="spacingAndGlyphs">471.omnetpp</text>
<text x="135" y="444" font-weight="bold" textLength="7" lengthAdjust="spacingAndGlyphs">8</text>
<text x="135" y="462" font-weight="bold" textLength="7" lengthAdjust="spacingAndGlyphs">8</text>
<text x="38" y="497" font-weight="bold" textLength="63" lengthAdjust="spacingAndGlyphs">473.astar</text>
<text x="135" y="489" font-weight="bold" textLength="7" lengthAdjust="spacingAndGlyphs">8</text>
<text x="135" y="507" font-weight="bold" textLength="7" lengthAdjust="spacingAndGlyphs">8</text>
<text x="10" y="542" font-weight="bold" textLength="91" lengthAdjust="spacingAndGlyphs">483.xalancbmk</text>
<text x="135" y="543" font-weight="bold" textLength="7" lengthAdjust="spacingAndGlyphs">8</text>
<text x="300" y="574" font-weight="bold" textLength="196" lengthAdjust="spacingAndGlyphs">SPECint_rate_base2006 = 96.8</text>
<text x="423" y="596" font-weight="bold" textLength="154" lengthAdjust="spacingAndGlyphs">SPECint_rate2006 = 119</text>
<text x="156" y="11" textLength="6" lengthAdjust="spacingAndGlyphs">0</text>
<text x="170" y="11" textLength="24" lengthAdjust="spacingAndGlyphs">10.0</text>
<text x="214" y="11" textLength="24" lengthAdjust="spacingAndGlyphs">25.0</text>
<text x="258" y="11" textLength="24" lengthAdjust="spacingAndGlyphs">40.0</text>
<text x="302" y="11" textLength="24" lengthAdjust="spacingAndGlyphs">55.0</text>
<text x="345" y="11" textLength="24" lengthAdjust="spacingAndGlyphs">70.0</text>
<text x="389" y="11" textLength="24" lengthAdjust="spacingAndGlyphs">85.0</text>
<text x="436" y="11" textLength="18" lengthAdjust="spacingAndGlyphs">100</text>
<text x="465" y="11" textLength="18" lengthAdjust="spacingAndGlyphs">110</text>
<text x="494" y="11" textLength="18" lengthAdjust="spacingAndGlyphs">120</text>
<text x="524" y="11" textLength="18" lengthAdjust="spacingAndGlyphs">130</text>
<text x="553" y="11" textLength="18" lengthAdjust="spacingAndGlyphs">140</text>
<text x="582" y="11" textLength="18" lengthAdjust="spacingAndGlyphs">150</text>
<text x="611" y="11" textLength="18" lengthAdjust="spacingAndGlyphs">160</text>
<text x="640" y="11" textLength="18" lengthAdjust="spacingAndGlyphs">170</text>
<text x="669" y="11" textLength="18" lengthAdjust="spacingAndGlyphs">180</text>
<text x="699" y="11" textLength="18" lengthAdjust="spacingAndGlyphs">190</text>
<text x="728" y="11" textLength="18" lengthAdjust="spacingAndGlyphs">200</text>
<text x="775" y="11" textLength="18" lengthAdjust="spacingAndGlyphs">220</text>
<text x="583" y="31" textLength="18" lengthAdjust="spacingAndGlyphs">150</text>
<text x="512" y="65" textLength="18" lengthAdjust="spacingAndGlyphs">126</text>
<text x="438" y="76" textLength="24" lengthAdjust="spacingAndGlyphs">97.5</text>
<text x="408" y="110" textLength="24" lengthAdjust="spacingAndGlyphs">91.4</text>
<text x="400" y="121" textLength="24" lengthAdjust="spacingAndGlyphs">88.8</text>
<text x="400" y="155" textLength="24" lengthAdjust="spacingAndGlyphs">88.7</text>
<text x="372" y="166" textLength="24" lengthAdjust="spacingAndGlyphs">79.2</text>
<text x="372" y="200" textLength="24" lengthAdjust="spacingAndGlyphs">79.1</text>
<text x="548" y="211" textLength="18" lengthAdjust="spacingAndGlyphs">138</text>
<text x="518" y="245" textLength="18" lengthAdjust="spacingAndGlyphs">128</text>
<text x="667" y="256" textLength="18" lengthAdjust="spacingAndGlyphs">179</text>
<text x="451" y="290" textLength="18" lengthAdjust="spacingAndGlyphs">105</text>
<text x="527" y="301" textLength="18" lengthAdjust="spacingAndGlyphs">131</text>
<text x="479" y="335" textLength="18" lengthAdjust="spacingAndGlyphs">118</text>
<text x="711" y="346" textLength="18" lengthAdjust="spacingAndGlyphs">194</text>
<text x="285" y="380" textLength="24" lengthAdjust="spacingAndGlyphs">49.5</text>
<text x="774" y="391" textLength="18" lengthAdjust="spacingAndGlyphs">218</text>
<text x="757" y="425" textLength="18" lengthAdjust="spacingAndGlyphs">210</text>
<text x="320" y="436" textLength="24" lengthAdjust="spacingAndGlyphs">61.4</text>
<text x="315" y="470" textLength="24" lengthAdjust="spacingAndGlyphs">59.6</text>
<text x="364" y="481" textLength="24" lengthAdjust="spacingAndGlyphs">76.3</text>
<text x="349" y="515" textLength="24" lengthAdjust="spacingAndGlyphs">71.1</text>
<text x="503" y="531" textLength="18" lengthAdjust="spacingAndGlyphs">119</text>
</g>
</svg>
</body></html>
